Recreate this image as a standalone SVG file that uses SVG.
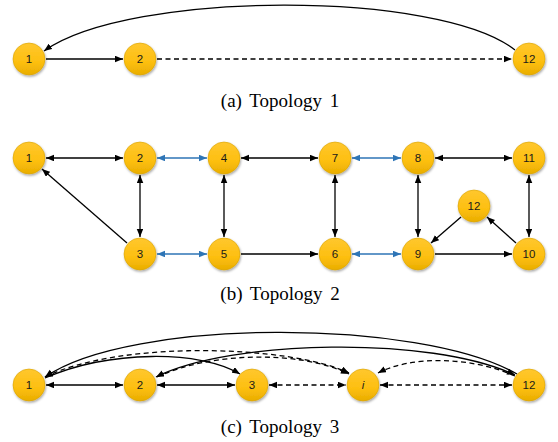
<svg xmlns="http://www.w3.org/2000/svg" width="558" height="442" viewBox="0 0 558 442">
<style>
.n circle{fill:url(#g);stroke:#d9a300;stroke-width:0.6;filter:url(#sh)}
.n text{font-family:"Liberation Sans",Arial,sans-serif;font-size:11.5px;fill:#1a1a1a;text-anchor:middle;dominant-baseline:central}
.e{fill:none;stroke:#000;stroke-width:1.3}
.b{stroke:#2e75b6}
.d{stroke-dasharray:5 3.5}
.ar{marker-end:url(#a)}
.ar2{marker-start:url(#a);marker-end:url(#a)}
.br2{marker-start:url(#ab);marker-end:url(#ab)}
.cap{font-family:"Liberation Serif","Times New Roman",serif;font-size:19px;fill:#000;text-anchor:middle;word-spacing:3px}
</style>
<defs>
<linearGradient id="g" x1="0" y1="0" x2="0" y2="1">
<stop offset="0" stop-color="#ffc72e"/>
<stop offset="0.6" stop-color="#fdbf10"/>
<stop offset="1" stop-color="#e9ad00"/>
</linearGradient>
<filter id="sh" x="-30%" y="-30%" width="160%" height="160%">
<feDropShadow dx="0.8" dy="1.5" stdDeviation="1" flood-color="#000" flood-opacity="0.35"/>
</filter>
<marker id="a" markerUnits="userSpaceOnUse" markerWidth="9" markerHeight="7" refX="8" refY="3.25" orient="auto-start-reverse">
<path d="M0,0 L8,3.25 L0,6.5 z" fill="#000"/>
</marker>
<marker id="ab" markerUnits="userSpaceOnUse" markerWidth="9" markerHeight="7" refX="8" refY="3.25" orient="auto-start-reverse">
<path d="M0,0 L8,3.25 L0,6.5 z" fill="#2e75b6"/>
</marker>
</defs>
<g id="connectors">
<path class="e ar" d="M515,50 C440,-10 130,-10 44,51"/>
<line class="e ar" x1="46" y1="59" x2="123" y2="59"/>
<line class="e d ar" x1="157" y1="59" x2="512" y2="59"/>
<line class="e ar2" x1="46" y1="158" x2="123" y2="158"/>
<line class="e b br2" x1="157" y1="158" x2="207" y2="158"/>
<line class="e ar2" x1="241" y1="158" x2="318" y2="158"/>
<line class="e b br2" x1="352" y1="158" x2="401" y2="158"/>
<line class="e ar2" x1="435" y1="158" x2="512" y2="158"/>
<line class="e b br2" x1="157" y1="254" x2="207" y2="254"/>
<line class="e ar" x1="241" y1="254" x2="318" y2="254"/>
<line class="e b br2" x1="352" y1="254" x2="401" y2="254"/>
<line class="e ar" x1="435" y1="254" x2="512" y2="254"/>
<line class="e ar2" x1="140" y1="175" x2="140" y2="237"/>
<line class="e ar2" x1="224" y1="175" x2="224" y2="237"/>
<line class="e ar2" x1="335" y1="175" x2="335" y2="237"/>
<line class="e ar2" x1="418" y1="175" x2="418" y2="237"/>
<line class="e ar2" x1="529" y1="175" x2="529" y2="237"/>
<line class="e ar" x1="127" y1="243" x2="42" y2="169"/>
<line class="e ar" x1="461" y1="217" x2="431" y2="243"/>
<line class="e ar" x1="516" y1="243" x2="487" y2="217"/>
<line class="e ar2" x1="46" y1="385" x2="123" y2="385"/>
<line class="e ar2" x1="157" y1="385" x2="235" y2="385"/>
<line class="e d ar2" x1="269" y1="385" x2="346" y2="385"/>
<line class="e d ar2" x1="380" y1="385" x2="512" y2="385"/>
<path class="e ar" d="M517,374 C420,318 130,318 45,377"/>
<path class="e ar2" d="M156,377 C230,340 430,335 515,375"/>
<path class="e d ar2" d="M45,377 C120,340 290,345 349,373"/>
<path class="e ar" d="M45,378 C110,350 200,350 240,374"/>
<path class="e d ar" d="M157,377 C210,352 300,350 349,374"/>
<path class="e d ar" d="M515,376 C470,356 410,356 378,373"/>
</g>
<g id="t1-n1" class="n"><circle cx="29" cy="59" r="16"/><text x="29" y="59">1</text></g>
<g id="t1-n2" class="n"><circle cx="140" cy="59" r="16"/><text x="140" y="59">2</text></g>
<g id="t1-n12" class="n"><circle cx="529" cy="59" r="16"/><text x="529" y="59">12</text></g>
<g id="t2-n1" class="n"><circle cx="29" cy="158" r="16"/><text x="29" y="158">1</text></g>
<g id="t2-n2" class="n"><circle cx="140" cy="158" r="16"/><text x="140" y="158">2</text></g>
<g id="t2-n4" class="n"><circle cx="224" cy="158" r="16"/><text x="224" y="158">4</text></g>
<g id="t2-n7" class="n"><circle cx="335" cy="158" r="16"/><text x="335" y="158">7</text></g>
<g id="t2-n8" class="n"><circle cx="418" cy="158" r="16"/><text x="418" y="158">8</text></g>
<g id="t2-n11" class="n"><circle cx="529" cy="158" r="16"/><text x="529" y="158">11</text></g>
<g id="t2-n12" class="n"><circle cx="474" cy="206" r="16"/><text x="474" y="206">12</text></g>
<g id="t2-n3" class="n"><circle cx="140" cy="254" r="16"/><text x="140" y="254">3</text></g>
<g id="t2-n5" class="n"><circle cx="224" cy="254" r="16"/><text x="224" y="254">5</text></g>
<g id="t2-n6" class="n"><circle cx="335" cy="254" r="16"/><text x="335" y="254">6</text></g>
<g id="t2-n9" class="n"><circle cx="418" cy="254" r="16"/><text x="418" y="254">9</text></g>
<g id="t2-n10" class="n"><circle cx="529" cy="254" r="16"/><text x="529" y="254">10</text></g>
<g id="t3-n1" class="n"><circle cx="29" cy="385" r="16"/><text x="29" y="385">1</text></g>
<g id="t3-n2" class="n"><circle cx="140" cy="385" r="16"/><text x="140" y="385">2</text></g>
<g id="t3-n3" class="n"><circle cx="252" cy="385" r="16"/><text x="252" y="385">3</text></g>
<g id="t3-ni" class="n"><circle cx="363" cy="385" r="16"/><text x="363" y="385" font-style="italic">i</text></g>
<g id="t3-n12" class="n"><circle cx="529" cy="385" r="16"/><text x="529" y="385">12</text></g>
<text class="cap" x="280" y="107">(a) Topology 1</text>
<text class="cap" x="280" y="300">(b) Topology 2</text>
<text class="cap" x="280" y="433">(c) Topology 3</text>
</svg>
